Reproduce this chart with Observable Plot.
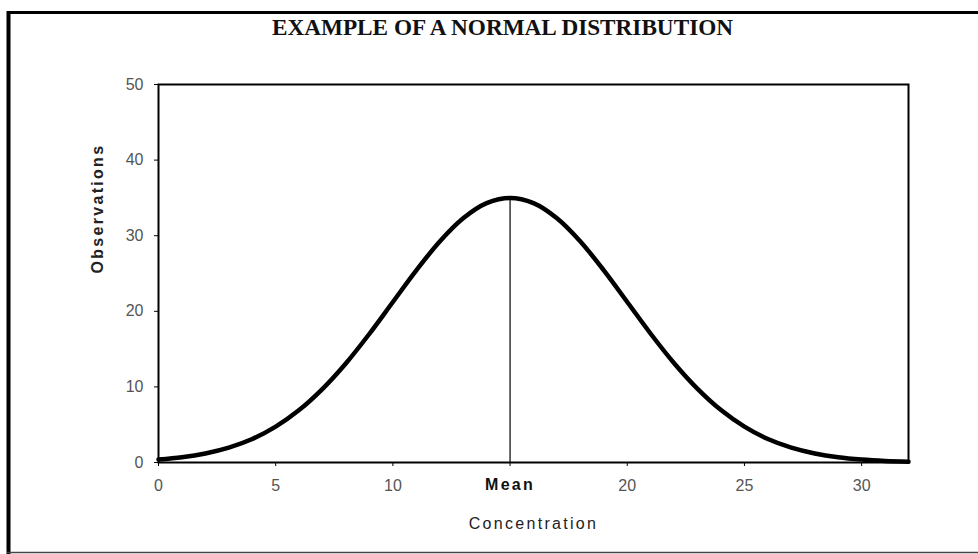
<!DOCTYPE html>
<html>
<head>
<meta charset="utf-8">
<script src="https://cdn.jsdelivr.net/npm/d3@7"></script>
<script src="https://cdn.jsdelivr.net/npm/@observablehq/plot@0.6"></script>
<style>
  html, body { margin: 0; padding: 0; background: #fff; }
  #chart svg { display: block; }
</style>
</head>
<body>
<div id="chart"></div>
<script>
const titleText = "EXAMPLE OF A NORMAL DISTRIBUTION";
const xLabel = "Concentration";
const yLabel = "Observations";
const meanLabel = "Mean";
const meanValue = 15;
const peakValue = 35;
const xTicks = [0, 5, 10, 15, 20, 25, 30];
const yTicks = [0, 10, 20, 30, 40, 50];
const concentration = [0, 1, 2, 3, 4, 5, 6, 7, 8, 9, 10, 11, 12, 13, 14, 15, 16,
  17, 18, 19, 20, 21, 22, 23, 24, 25, 26, 27, 28, 29, 30, 31, 32];
const observations = [0.39, 0.69, 1.19, 1.96, 3.10, 4.74, 6.93, 9.74, 13.13, 17.03, 21.23,
  25.41, 29.24, 32.31, 34.31, 35.0, 34.31, 32.31, 29.24, 25.41, 21.23, 17.03, 13.13,
  9.74, 6.93, 4.74, 3.10, 1.96, 1.19, 0.69, 0.39, 0.21, 0.11];

const data = concentration.map((x, i) => ({x, y: observations[i]}));
const W = 978, H = 554;

const tickFont = "Liberation Sans, Arial, sans-serif";

const chart = Plot.plot({
  width: W,
  height: H,
  marginLeft: 158,
  marginRight: 70,
  marginTop: 84,
  marginBottom: 92,
  style: {background: "#fff", fontFamily: tickFont},
  x: {domain: [0, 32]},
  y: {domain: [0, 50]},
  marks: [
    Plot.axisY(yTicks, {tickSize: 4, tickPadding: 11, fontSize: 16, fill: "#555", stroke: "#000", label: null}),
    Plot.axisX(xTicks, {tickSize: 4, tickPadding: 13, fontSize: 16, fill: "#555", stroke: "#000",
      tickFormat: d => d === meanValue ? "" : String(d), label: null}),
    Plot.ruleX([meanValue], {y1: 0, y2: peakValue, stroke: "#000", strokeWidth: 1.2}),
    Plot.line(data, {x: "x", y: "y", stroke: "#000", strokeWidth: 4.5, curve: "catmull-rom"}),
    Plot.frame({stroke: "#000", strokeWidth: 2}),
    Plot.text([meanLabel], {x: [meanValue], frameAnchor: "bottom", dy: 22, lineAnchor: "middle",
      fontSize: 16, fontWeight: "bold", fill: "#111", className: "spaced"}),
    Plot.text([xLabel], {frameAnchor: "bottom", dy: 61, lineAnchor: "middle",
      fontSize: 16, fill: "#222", className: "spaced"}),
    Plot.text([yLabel], {frameAnchor: "left", dx: -61, rotate: -90, lineAnchor: "middle",
      fontSize: 16, fontWeight: "bold", fill: "#222", className: "spaced"}),
    Plot.text([titleText], {frameAnchor: "top", dx: -31, dy: -57, lineAnchor: "middle",
      fontSize: 24, fontWeight: "bold", fill: "#111", fontFamily: "Liberation Serif, Times New Roman, serif",
      className: "title"})
  ]
});

const svg = d3.select(chart);
svg.selectAll(".spaced text").style("letter-spacing", "2.3px");
svg.selectAll(".title text").attr("textLength", 461).attr("lengthAdjust", "spacingAndGlyphs");

// outer border decoration
svg.append("line").attr("x1", 8.5).attr("x2", 8.5).attr("y1", 11).attr("y2", H)
  .attr("stroke", "#000").attr("stroke-width", 4);
svg.append("line").attr("x1", 7).attr("x2", W).attr("y1", 12.5).attr("y2", 12.5)
  .attr("stroke", "#000").attr("stroke-width", 3);
svg.append("line").attr("x1", 7).attr("x2", W).attr("y1", 552.5).attr("y2", 552.5)
  .attr("stroke", "#444").attr("stroke-width", 1.5);

document.getElementById("chart").appendChild(chart);
</script>
</body>
</html>
